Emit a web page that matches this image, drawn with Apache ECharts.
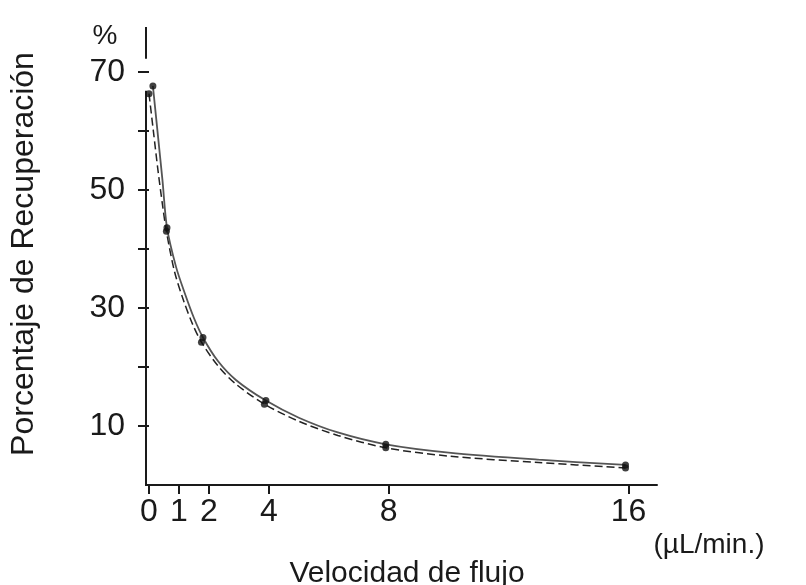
<!DOCTYPE html>
<html>
<head>
<meta charset="utf-8">
<script src="https://cdn.jsdelivr.net/npm/echarts@6/dist/echarts.min.js"></script>
<style>
  html, body { margin: 0; padding: 0; background: #fff; }
  #chart { width: 806px; height: 585px; }
</style>
</head>
<body>
<div id="chart"></div>
<script>
// curva continua: velocidad de flujo (µL/min) vs % de recuperación
var xSolid = [0.13, 0.3, 0.45, 0.6, 0.9, 1.2, 1.5, 1.8, 2.3, 2.9, 3.9, 5, 6.3, 7.9, 10, 13, 15.9];
var ySolid = [67.6, 59.1, 51.6, 43.6, 37.0, 32.4, 28.3, 25.0, 21.0, 17.8, 14.3, 11.4, 8.9, 6.9, 5.5, 4.3, 3.4];
// curva discontinua
var xDashed = [0.0, 0.15, 0.3, 0.45, 0.58, 0.85, 1.15, 1.45, 1.75, 2.3, 2.9, 3.85, 5, 6.3, 7.9, 10, 13, 15.9];
var yDashed = [66.3, 59.8, 53.3, 47.5, 43.0, 36.2, 31.3, 27.3, 24.2, 20.2, 17.1, 13.7, 10.8, 8.4, 6.3, 4.9, 3.8, 2.9];
// puntos medidos (marcadores)
var xPoints = [0.13, 0.0, 0.6, 0.58, 1.8, 1.75, 3.9, 3.85, 7.9, 7.9, 15.9, 15.9];
var yPoints = [67.6, 66.3, 43.6, 43.0, 25.0, 24.2, 14.3, 13.7, 6.9, 6.3, 3.4, 2.9];

// ticks del eje
var xTicks = [0, 1, 2, 4, 8, 16];
var yTicks = [10, 20, 30, 40, 50, 60, 70];
var yLabels = [10, 30, 50, 70];

var FONT = '"Liberation Sans", Arial, sans-serif';
var INK = '#1a1a1a';

function pairs(xs, ys) {
  return xs.map(function (x, i) { return [x, ys[i]]; });
}

var chart = echarts.init(document.getElementById('chart'), null, { renderer: 'canvas' });

var option = {
  backgroundColor: '#fff',
  animation: false,
  grid: { left: 146, right: 149, top: 27, bottom: 100 },
  xAxis: {
    type: 'value',
    min: -0.1,
    max: 16.95,
    axisLine: { show: true, lineStyle: { color: INK, width: 2 } },
    axisTick: { show: true, length: 9, lineStyle: { color: INK, width: 2 }, customValues: xTicks },
    axisLabel: { fontFamily: FONT, fontSize: 32, color: INK, margin: 11, customValues: xTicks },
    splitLine: { show: false }
  },
  yAxis: {
    type: 'value',
    min: 0,
    max: 77.6,
    axisLine: { show: false },
    axisTick: { show: true, length: 11, lineStyle: { color: INK, width: 2 }, customValues: yTicks },
    axisLabel: { fontFamily: FONT, fontSize: 32, color: INK, margin: 21, customValues: yLabels },
    splitLine: { show: false }
  },
  series: [
    {
      name: 'continua',
      type: 'line',
      data: pairs(xSolid, ySolid),
      smooth: 0.3,
      symbol: 'none',
      lineStyle: { color: '#555', width: 1.8 },
      z: 3
    },
    {
      name: 'discontinua',
      type: 'line',
      data: pairs(xDashed, yDashed),
      smooth: 0.3,
      symbol: 'none',
      lineStyle: { color: '#222', width: 1.5, type: [8, 4] },
      z: 2
    },
    {
      name: 'puntos',
      type: 'scatter',
      data: pairs(xPoints, yPoints),
      symbol: 'circle',
      symbolSize: 7,
      itemStyle: { color: '#111' },
      z: 4
    }
  ]
};
chart.setOption(option);

// eje Y cortado cerca de 70, como en el original
function py(v) { return chart.convertToPixel({ yAxisIndex: 0 }, v); }
var ax = chart.convertToPixel({ xAxisIndex: 0 }, -0.1);
var axisStyle = { stroke: INK, lineWidth: 2 };

chart.setOption({
  graphic: [
    { type: 'line', shape: { x1: ax, y1: py(77.6), x2: ax, y2: py(72.2) }, style: axisStyle },
    { type: 'line', shape: { x1: ax, y1: py(66.8), x2: ax, y2: py(0) + 1 }, style: axisStyle },
    {
      type: 'text', x: 105, y: 36,
      style: { text: '%', font: '28px ' + FONT, fill: INK, align: 'center', verticalAlign: 'middle' }
    },
    {
      type: 'text', x: 24, y: 254, rotation: Math.PI / 2,
      style: { text: 'Porcentaje de Recuperación', font: '32px ' + FONT, fill: INK, align: 'center', verticalAlign: 'middle' }
    },
    {
      type: 'text', x: 407, y: 574,
      style: { text: 'Velocidad de flujo', font: '30px ' + FONT, fill: INK, align: 'center', verticalAlign: 'middle' }
    },
    {
      type: 'text', x: 709, y: 545,
      style: { text: '(µL/min.)', font: '28px ' + FONT, fill: INK, align: 'center', verticalAlign: 'middle' }
    }
  ]
});
</script>
</body>
</html>
